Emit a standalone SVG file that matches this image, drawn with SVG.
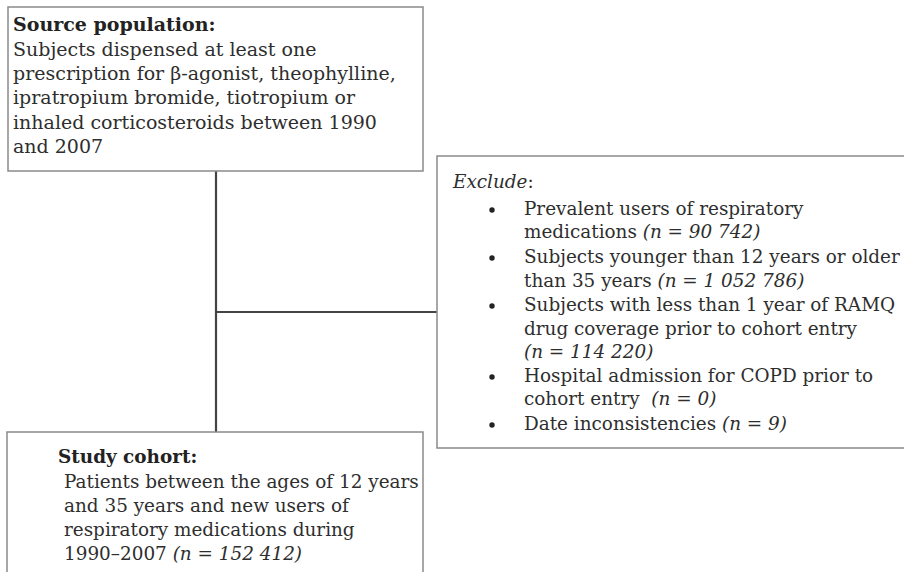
<svg xmlns="http://www.w3.org/2000/svg" width="904" height="572" viewBox="0 0 904 572">
<style>
.box{fill:#fff;stroke:#8a8a8a;stroke-width:1.5}
.t{font-family:"DejaVu Serif","Liberation Serif",serif;font-size:18.4px;fill:#2e2e2e}
.s{font-size:19px}
.b{font-weight:bold;fill:#222}
.i{font-style:italic}
.conn{stroke:#444;stroke-width:2.2;fill:none}
</style>
<rect width="904" height="572" fill="#fff"/>
<g id="connectors">
<line class="conn" x1="216" y1="171" x2="216" y2="432"/>
<line class="conn" x1="216" y1="312" x2="437" y2="312"/>
</g>
<g id="source">
<rect class="box" x="8" y="7" width="415" height="164"/>
<text class="t s b" x="13" y="31">Source population:</text>
<text class="t s" x="13" y="56">Subjects dispensed at least one</text>
<text class="t s" x="13" y="80">prescription for β-agonist, theophylline,</text>
<text class="t s" x="13" y="104">ipratropium bromide, tiotropium or</text>
<text class="t s" x="13" y="129">inhaled corticosteroids between 1990</text>
<text class="t s" x="13" y="153">and 2007</text>
</g>
<g id="exclude">
<rect class="box" x="437" y="156" width="470" height="292"/>
<text class="t" x="453" y="188"><tspan class="i">Exclude</tspan>:</text>
<g fill="#222">
<circle cx="492" cy="210" r="2.7"/>
<circle cx="492" cy="258" r="2.7"/>
<circle cx="492" cy="306" r="2.7"/>
<circle cx="492" cy="377" r="2.7"/>
<circle cx="492" cy="425" r="2.7"/>
</g>
<text class="t" x="524" y="215">Prevalent users of respiratory</text>
<text class="t" x="524" y="238">medications <tspan class="i">(n = 90 742)</tspan></text>
<text class="t" x="524" y="263">Subjects younger than 12 years or older</text>
<text class="t" x="524" y="287">than 35 years <tspan class="i">(n = 1 052 786)</tspan></text>
<text class="t" x="524" y="311">Subjects with less than 1 year of RAMQ</text>
<text class="t" x="524" y="335">drug coverage prior to cohort entry</text>
<text class="t i" x="524" y="358">(n = 114 220)</text>
<text class="t" x="524" y="382">Hospital admission for COPD prior to</text>
<text class="t" x="524" y="405" xml:space="preserve">cohort entry  <tspan class="i">(n = 0)</tspan></text>
<text class="t" x="524" y="430">Date inconsistencies <tspan class="i">(n = 9)</tspan></text>
</g>
<g id="cohort">
<rect class="box" x="7" y="432" width="416" height="150"/>
<text class="t b" x="58" y="463">Study cohort:</text>
<text class="t" x="64" y="488">Patients between the ages of 12 years</text>
<text class="t" x="64" y="512">and 35 years and new users of</text>
<text class="t" x="64" y="536">respiratory medications during</text>
<text class="t" x="64" y="560">1990–2007 <tspan class="i">(n = 152 412)</tspan></text>
</g>
</svg>
